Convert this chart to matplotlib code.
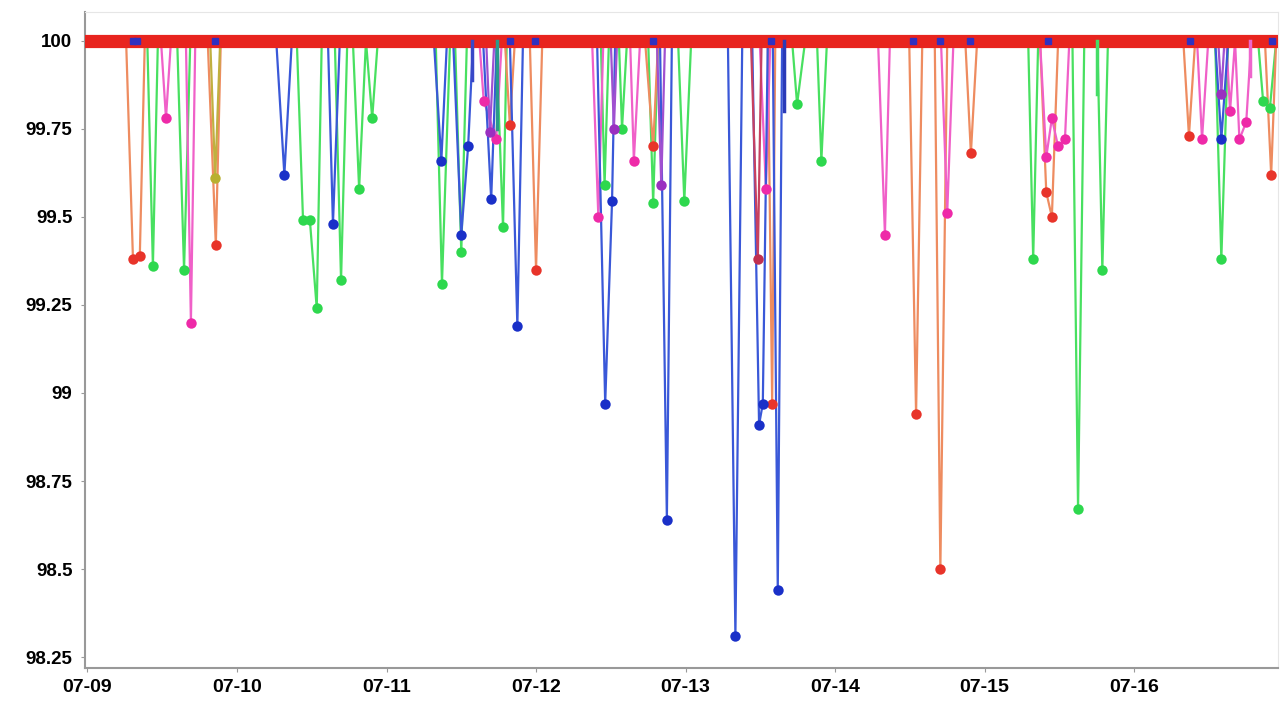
import numpy as np
import matplotlib
matplotlib.use('Agg')
import matplotlib.pyplot as plt

plt.rcParams['font.family'] = ['Liberation Sans', 'DejaVu Sans']

# hours since 07-09 00:00, availability in %
blue_t = [30.3, 31.6, 32.8, 38.6, 39.4, 40.5, 55.6, 56.8, 57.7, 58.7, 60.0, 61.1, 61.9,
          63.5, 64.8, 65.7, 67.8, 69.0, 69.9, 81.8, 83.1, 84.2, 84.7, 91.9, 93.0, 93.8,
          102.8, 104.0, 105.1, 106.7, 107.8, 108.4, 109.2, 110.0, 110.8, 111.5,
          181.0, 182.0, 183.1]
blue_v = [100, 99.62, 100, 100, 99.48, 100, 100, 99.66, 100, 100, 99.45, 99.70, 100,
          100, 99.55, 100, 100, 99.19, 100, 100, 98.97, 99.545, 100, 100, 98.64, 100,
          100, 98.31, 100, 100, 98.91, 98.97, 100, 100, 98.44, 100,
          100, 99.72, 100]

orange_t = [6.2, 7.3, 8.4, 9.2, 19.3, 20.6, 21.4, 67.0, 67.8, 68.6, 71.0, 72.0, 73.0,
            89.5, 90.8, 91.6, 109.2, 109.9, 110.4, 131.9, 133.0, 134.0, 136.0, 136.9, 138.0,
            140.9, 141.8, 142.8, 152.9, 153.9, 154.8, 155.8, 175.9, 176.8, 177.8,
            189.0, 190.0, 190.8]
orange_v = [100, 99.38, 99.39, 100, 100, 99.42, 100, 100, 99.76, 100, 100, 99.35, 100,
            100, 99.70, 100, 100, 98.97, 100, 100, 98.94, 100, 100, 98.50, 100,
            100, 99.68, 100, 100, 99.57, 99.50, 100, 100, 99.73, 100,
            100, 99.62, 100]

green_t = [9.6, 10.5, 11.3, 14.4, 15.5, 16.5, 33.6, 34.6, 35.7, 36.8, 37.6, 39.7, 40.7, 41.7,
           42.6, 43.6, 44.7, 45.7, 46.6, 55.9, 56.9, 58.2, 59.0, 60.0, 60.9, 65.6, 66.7, 67.3,
           82.4, 83.0, 83.7, 85.3, 85.8, 86.6, 90.0, 90.8, 91.6, 94.8, 95.8, 96.9,
           113.1, 113.9, 115.2, 117.1, 117.8, 118.7, 151.0, 151.8, 152.6, 158.1, 159.0, 160.0,
           162.1, 162.9, 163.8, 181.0, 182.0, 183.1, 187.9, 188.7, 189.8, 190.8]
green_v = [100, 99.36, 100, 100, 99.35, 100, 100, 99.49, 99.49, 99.24, 100, 100, 99.32, 100,
           100, 99.58, 100, 99.78, 100, 100, 99.31, 100, 100, 99.40, 100, 100, 99.47, 100,
           100, 99.59, 100, 100, 99.75, 100, 100, 99.54, 100, 100, 99.545, 100,
           100, 99.82, 100, 100, 99.66, 100, 100, 99.38, 100, 100, 98.67, 100,
           100, 99.35, 100, 100, 99.38, 100, 100, 99.83, 99.81, 100]

magenta_t = [11.8, 12.6, 13.4, 15.8, 16.6, 17.3, 62.9, 63.6, 65.6, 66.5, 81.0, 82.0, 82.8,
             87.1, 87.7, 88.7, 107.9, 108.9, 109.6, 126.9, 128.0, 128.8, 137.0, 138.0, 139.0,
             152.9, 153.9, 154.8, 155.8, 156.9, 157.6, 178.1, 178.9, 179.9,
             182.8, 183.4, 184.2, 184.9, 186.0, 186.8]
magenta_v = [100, 99.78, 100, 100, 99.20, 100, 100, 99.83, 99.72, 100, 100, 99.50, 100,
             100, 99.66, 100, 100, 99.58, 100, 100, 99.45, 100, 100, 99.51, 100,
             100, 99.67, 99.78, 99.70, 99.72, 100, 100, 99.72, 100,
             100, 99.80, 100, 99.72, 99.77, 100]

purple_t = [64.0, 64.6, 65.3, 84.0, 84.5, 85.0, 91.4, 92.1, 92.7, 181.5, 182.0, 182.5]
purple_v = [100, 99.74, 100, 100, 99.75, 100, 100, 99.59, 100, 100, 99.85, 100]

olive_t = [19.7, 20.5, 21.3]
olive_v = [100, 99.61, 100]

crimson_t = [106.5, 107.6, 108.2]
crimson_v = [100, 99.38, 100]

# short bracket-like marks hanging from the 100 line
bar_t = [61.7, 65.7, 111.8, 162.1, 186.6]
bar_low = [99.89, 99.75, 99.80, 99.85, 99.90]
bar_colors = ['#3848c8', '#2a9a8a', '#2a3ab8', '#44dd66', '#ee66cc']

band_marks = [7.3, 7.9, 20.5, 67.8, 71.8, 90.8, 109.7, 132.5, 136.9, 141.7,
              154.2, 177.0, 190.2]

day_labels = ['07-09', '07-10', '07-11', '07-12', '07-13', '07-14', '07-15', '07-16']

series = [
    (green_t, green_v, '#48e060', '#2ed84e'),
    (orange_t, orange_v, '#ee8c60', '#e8342a'),
    (magenta_t, magenta_v, '#f060c8', '#ee2aa8'),
    (blue_t, blue_v, '#3a58d8', '#1a30c8'),
    (purple_t, purple_v, '#a050d0', '#9a30c0'),
    (olive_t, olive_v, '#c0b040', '#b8b030'),
    (crimson_t, crimson_v, '#c84060', '#c03050'),
]

fig = plt.figure(figsize=(12.82, 7.01), dpi=100)
ax = fig.add_axes([0.0663, 0.047, 0.9306, 0.936])

for t, v, lc, mc in series:
    t = np.array(t)
    v = np.array(v)
    ax.plot(t, v, color=lc, lw=1.6, zorder=2)
    low = v < 100
    ax.plot(t[low], v[low], 'o', color=mc, ms=7.5, zorder=5, mec='none')

for t, lo, c in zip(bar_t, bar_low, bar_colors):
    ax.plot([t, t], [100, lo], color=c, lw=2.5, zorder=4)

# the red band along 100
ax.axhline(100, color='#e8241e', lw=9.5, zorder=3)
ax.plot(band_marks, [100] * len(band_marks), 's', color='#3030c0', ms=5, zorder=4)

ax.set_xlim(-0.4, 191.1)
ax.set_ylim(98.219, 100.082)
ax.set_yticks([98.25, 98.5, 98.75, 99, 99.25, 99.5, 99.75, 100])
ax.set_yticklabels(['98.25', '98.5', '98.75', '99', '99.25', '99.5', '99.75', '100'],
                   fontsize=13.5, fontweight='bold')
ax.set_xticks(np.arange(len(day_labels)) * 24)
ax.set_xticklabels(day_labels, fontsize=14, fontweight='bold')
ax.tick_params(axis='x', length=3, pad=5, color='#999999')
ax.tick_params(axis='y', length=3, pad=6, color='#999999')

for s in ['top', 'right']:
    ax.spines[s].set_color('#e6e6e6')
ax.spines['left'].set_color('#999999')
ax.spines['bottom'].set_color('#999999')
ax.spines['left'].set_linewidth(1.5)
ax.spines['bottom'].set_linewidth(1.5)

fig.savefig('out.png', dpi=100)
